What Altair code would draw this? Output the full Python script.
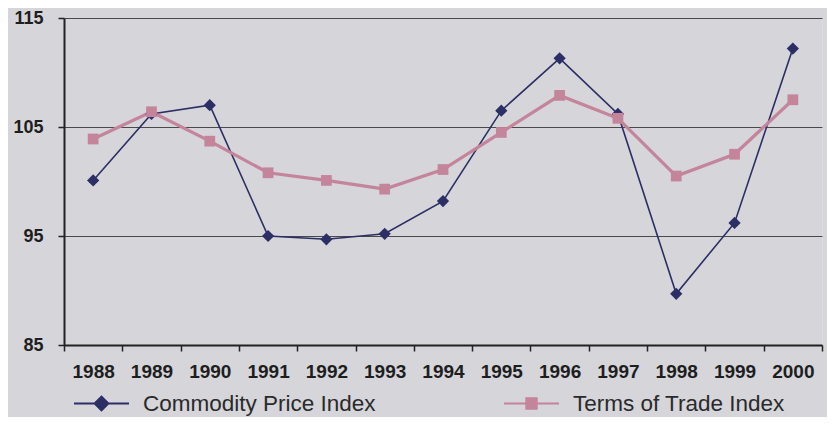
import altair as alt
import pandas as pd

years = ["1988", "1989", "1990", "1991", "1992", "1993", "1994",
         "1995", "1996", "1997", "1998", "1999", "2000"]
commodity = [100.1, 106.2, 107.0, 95.0, 94.7, 95.2, 98.2,
             106.5, 111.3, 106.2, 89.7, 96.2, 112.2]
terms = [103.9, 106.4, 103.7, 100.8, 100.1, 99.3, 101.1,
         104.5, 107.9, 105.8, 100.5, 102.5, 107.5]
series_names = ["Commodity Price Index", "Terms of Trade Index"]
series_colors = ["#2c2e66", "#c4849a"]
line_widths = [1.6, 3.2]
marker_shapes = ["diamond", "square"]
marker_sizes = [150, 115]
legend_shapes = ["M-1,0H1M-0.25,0L0,-0.25L0.25,0L0,0.25Z",
                 "M-1,0H1M-0.19,-0.19H0.19V0.19H-0.19Z"]
y_ticks = [85, 95, 105, 115]

rows = []
for name, vals in zip(series_names, [commodity, terms]):
    for yr, v in zip(years, vals):
        rows.append({"year": yr, "value": v, "series": name})
df = pd.DataFrame(rows)

FONT = "Liberation Sans"

x_enc = alt.X("year:N", sort=years,
              scale=alt.Scale(type="band", paddingInner=0, paddingOuter=0),
              axis=alt.Axis(title=None, labelAngle=0, tickBand="extent", grid=False,
                            domainColor="#222222", domainWidth=2,
                            tickColor="#222222", tickSize=6, tickWidth=1.5,
                            labelFont=FONT, labelFontSize=19, labelFontWeight="bold",
                            labelColor="#1e1e1e", labelPadding=11))
y_enc = alt.Y("value:Q", scale=alt.Scale(domain=[85, 115], nice=False, zero=False),
              axis=alt.Axis(title=None, values=y_ticks, grid=True,
                            gridColor="#4a4a4a", gridWidth=1,
                            domainColor="#222222", domainWidth=2,
                            tickColor="#222222", tickSize=6, tickWidth=1.5,
                            labelFont=FONT, labelFontSize=18, labelFontWeight="bold",
                            labelColor="#1e1e1e", labelPadding=15))
color_enc = alt.Color("series:N", scale=alt.Scale(domain=series_names, range=series_colors),
                      legend=None)

base = alt.Chart(df)

lines = base.mark_line().encode(
    x=x_enc, y=y_enc, color=color_enc,
    strokeWidth=alt.StrokeWidth("series:N",
                                scale=alt.Scale(domain=series_names, range=line_widths),
                                legend=None),
)

points = base.mark_point(filled=True, opacity=1).encode(
    x=x_enc, y=y_enc, color=color_enc,
    shape=alt.Shape("series:N", scale=alt.Scale(domain=series_names, range=marker_shapes),
                    legend=None),
    size=alt.Size("series:N", scale=alt.Scale(domain=series_names, range=marker_sizes),
                  legend=None),
)

leg = dict(orient="none", legendX=9, legendY=357, direction="horizontal", title=None,
           symbolSize=3025, symbolStrokeWidth=2, labelFont=FONT, labelFontSize=22.5,
           labelColor="#2a2a2a", labelOffset=13, labelLimit=400, columnPadding=124,
           padding=0)

legend_layer = base.transform_filter("false").mark_point(filled=True, opacity=1).encode(
    x=x_enc, y=y_enc,
    fill=alt.Fill("series:N", scale=alt.Scale(domain=series_names, range=series_colors),
                  legend=alt.Legend(**leg)),
    stroke=alt.Stroke("series:N", scale=alt.Scale(domain=series_names, range=series_colors),
                      legend=alt.Legend(**leg)),
    shape=alt.Shape("series:N", scale=alt.Scale(domain=series_names, range=legend_shapes),
                    legend=alt.Legend(**leg)),
)

chart = alt.layer(lines, points, legend_layer).resolve_scale(
    fill="independent", stroke="independent", shape="independent"
).properties(
    width=758, height=327,
    autosize=alt.AutoSizeParams(type="none"),
    padding={"left": 56, "top": 10, "right": 5, "bottom": 72},
    background="#d5d5da",
).configure_view(
    stroke="#2a2a2a", strokeWidth=2,
).configure(font=FONT)

chart.save("out.html", embed_options={"renderer": "svg", "actions": False})
